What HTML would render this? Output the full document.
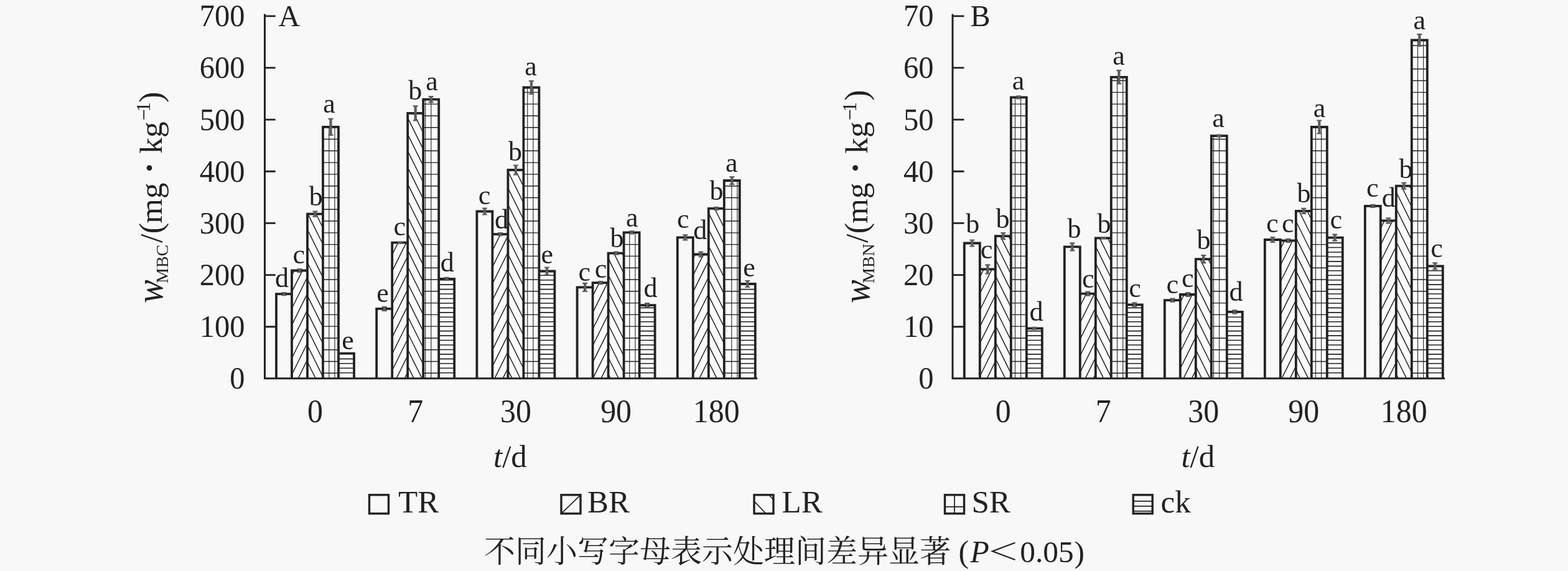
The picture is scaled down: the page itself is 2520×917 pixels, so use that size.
<!DOCTYPE html><html><head><meta charset="utf-8"><title>chart</title><style>html,body{margin:0;padding:0;background:#f8f8f8}body{width:2520px;height:917px;overflow:hidden;font-family:"Liberation Serif",serif}</style></head><body><svg width="2520" height="917" viewBox="0 0 2520 917" style="display:block;filter:blur(0.6px)">
<rect width="2520" height="917" fill="#f8f8f8"/>
<defs>
<clipPath id="c1"><rect x="444" y="472.2" width="25" height="135.6"/></clipPath><clipPath id="c2"><rect x="469" y="434.5" width="25" height="173.3"/></clipPath><clipPath id="c3"><rect x="494" y="343.6" width="25" height="264.2"/></clipPath><clipPath id="c4"><rect x="519" y="203.8" width="25" height="404"/></clipPath><clipPath id="c5"><rect x="544" y="567.7" width="25" height="40.1"/></clipPath><clipPath id="c6"><rect x="605.2" y="495.9" width="25" height="111.9"/></clipPath><clipPath id="c7"><rect x="630.2" y="389.6" width="25" height="218.2"/></clipPath><clipPath id="c8"><rect x="655.2" y="181.8" width="25" height="426"/></clipPath><clipPath id="c9"><rect x="680.2" y="159.6" width="25" height="448.2"/></clipPath><clipPath id="c10"><rect x="705.2" y="447.8" width="25" height="160"/></clipPath><clipPath id="c11"><rect x="766.4" y="339.5" width="25" height="268.3"/></clipPath><clipPath id="c12"><rect x="791.4" y="376.2" width="25" height="231.6"/></clipPath><clipPath id="c13"><rect x="816.4" y="273" width="25" height="334.8"/></clipPath><clipPath id="c14"><rect x="841.4" y="140.5" width="25" height="467.3"/></clipPath><clipPath id="c15"><rect x="866.4" y="435.5" width="25" height="172.3"/></clipPath><clipPath id="c16"><rect x="927.6" y="461.4" width="25" height="146.4"/></clipPath><clipPath id="c17"><rect x="952.6" y="454.2" width="25" height="153.6"/></clipPath><clipPath id="c18"><rect x="977.6" y="406.7" width="25" height="201.1"/></clipPath><clipPath id="c19"><rect x="1002.6" y="373.3" width="25" height="234.5"/></clipPath><clipPath id="c20"><rect x="1027.6" y="490.2" width="25" height="117.6"/></clipPath><clipPath id="c21"><rect x="1088.8" y="381.4" width="25" height="226.4"/></clipPath><clipPath id="c22"><rect x="1113.8" y="408.5" width="25" height="199.3"/></clipPath><clipPath id="c23"><rect x="1138.8" y="334.9" width="25" height="272.9"/></clipPath><clipPath id="c24"><rect x="1163.8" y="290" width="25" height="317.8"/></clipPath><clipPath id="c25"><rect x="1188.8" y="456" width="25" height="151.8"/></clipPath><clipPath id="c26"><rect x="1549.8" y="390.5" width="25" height="217.3"/></clipPath><clipPath id="c27"><rect x="1574.8" y="432.4" width="25" height="175.4"/></clipPath><clipPath id="c28"><rect x="1599.8" y="379.1" width="25" height="228.7"/></clipPath><clipPath id="c29"><rect x="1624.8" y="156.3" width="25" height="451.5"/></clipPath><clipPath id="c30"><rect x="1649.8" y="527.3" width="25" height="80.5"/></clipPath><clipPath id="c31"><rect x="1710.8" y="396.4" width="25" height="211.4"/></clipPath><clipPath id="c32"><rect x="1735.8" y="471.7" width="25" height="136.1"/></clipPath><clipPath id="c33"><rect x="1760.8" y="382.4" width="25" height="225.4"/></clipPath><clipPath id="c34"><rect x="1785.8" y="123.8" width="25" height="484"/></clipPath><clipPath id="c35"><rect x="1810.8" y="489.4" width="25" height="118.4"/></clipPath><clipPath id="c36"><rect x="1871.8" y="482.2" width="25" height="125.6"/></clipPath><clipPath id="c37"><rect x="1896.8" y="473" width="25" height="134.8"/></clipPath><clipPath id="c38"><rect x="1921.8" y="416.1" width="25" height="191.7"/></clipPath><clipPath id="c39"><rect x="1946.8" y="218.2" width="25" height="389.6"/></clipPath><clipPath id="c40"><rect x="1971.8" y="500.8" width="25" height="107"/></clipPath><clipPath id="c41"><rect x="2032.8" y="385" width="25" height="222.8"/></clipPath><clipPath id="c42"><rect x="2057.8" y="386.3" width="25" height="221.5"/></clipPath><clipPath id="c43"><rect x="2082.8" y="338.8" width="25" height="269"/></clipPath><clipPath id="c44"><rect x="2107.8" y="204" width="25" height="403.8"/></clipPath><clipPath id="c45"><rect x="2132.8" y="381.7" width="25" height="226.1"/></clipPath><clipPath id="c46"><rect x="2193.8" y="330.8" width="25" height="277"/></clipPath><clipPath id="c47"><rect x="2218.8" y="354.3" width="25" height="253.5"/></clipPath><clipPath id="c48"><rect x="2243.8" y="298.7" width="25" height="309.1"/></clipPath><clipPath id="c49"><rect x="2268.8" y="64.5" width="25" height="543.3"/></clipPath><clipPath id="c50"><rect x="2293.8" y="427.3" width="25" height="180.5"/></clipPath>
</defs>
<g font-family='"Liberation Serif", serif' fill="#222">
<rect x="444" y="472.2" width="25" height="135.6" fill="#f8f8f8"/>
<rect x="469" y="434.5" width="25" height="173.3" fill="#fbfbfb"/>
<path clip-path="url(#c2)" d="M468 417.68L495 363.16M468 444.25L495 389.73M468 470.82L495 416.3M468 497.39L495 442.87M468 523.96L495 469.44M468 550.53L495 496.01M468 577.1L495 522.58M468 603.67L495 549.15M468 630.24L495 575.72M468 656.81L495 602.29M468 683.38L495 628.86" stroke="#222" stroke-width="1.5" fill="none"/>
<rect x="494" y="343.6" width="25" height="264.2" fill="#fbfbfb"/>
<path clip-path="url(#c3)" d="M493 286.78L520 341.29M493 313.35L520 367.86M493 339.92L520 394.43M493 366.49L520 421M493 393.06L520 447.57M493 419.63L520 474.14M493 446.2L520 500.71M493 472.77L520 527.28M493 499.34L520 553.85M493 525.91L520 580.42M493 552.48L520 606.99M493 579.05L520 633.56M493 605.62L520 660.13M493 632.19L520 686.7" stroke="#222" stroke-width="1.5" fill="none"/>
<rect x="519" y="203.8" width="25" height="404" fill="#fbfbfb"/>
<path clip-path="url(#c4)" d="M528.8 203.8V607.8M537.91 203.8V607.8" stroke="#3c3c3c" stroke-width="1.25" fill="none"/>
<path clip-path="url(#c4)" d="M519 204.73H544M519 223.52H544M519 242.31H544M519 261.1H544M519 279.89H544M519 298.68H544M519 317.47H544M519 336.26H544M519 355.05H544M519 373.84H544M519 392.63H544M519 411.42H544M519 430.21H544M519 449H544M519 467.79H544M519 486.58H544M519 505.37H544M519 524.16H544M519 542.95H544M519 561.74H544M519 580.53H544M519 599.32H544" stroke="#222" stroke-width="1.4" fill="none"/>
<rect x="544" y="567.7" width="25" height="40.1" fill="#fbfbfb"/>
<path clip-path="url(#c5)" d="M544 598.7H569M544 591.25H569M544 583.8H569M544 576.35H569" stroke="#222" stroke-width="1.6" fill="none"/>
<rect x="605.2" y="495.9" width="25" height="111.9" fill="#f8f8f8"/>
<rect x="630.2" y="389.6" width="25" height="218.2" fill="#fbfbfb"/>
<path clip-path="url(#c7)" d="M629.2 384.49L656.2 329.97M629.2 411.06L656.2 356.54M629.2 437.63L656.2 383.11M629.2 464.2L656.2 409.68M629.2 490.77L656.2 436.25M629.2 517.34L656.2 462.82M629.2 543.91L656.2 489.39M629.2 570.48L656.2 515.96M629.2 597.05L656.2 542.53M629.2 623.62L656.2 569.1M629.2 650.19L656.2 595.67M629.2 676.76L656.2 622.24" stroke="#222" stroke-width="1.5" fill="none"/>
<rect x="655.2" y="181.8" width="25" height="426" fill="#fbfbfb"/>
<path clip-path="url(#c8)" d="M654.2 107.41L681.2 161.92M654.2 133.98L681.2 188.49M654.2 160.55L681.2 215.06M654.2 187.12L681.2 241.63M654.2 213.69L681.2 268.2M654.2 240.26L681.2 294.77M654.2 266.83L681.2 321.34M654.2 293.4L681.2 347.91M654.2 319.97L681.2 374.48M654.2 346.54L681.2 401.05M654.2 373.11L681.2 427.62M654.2 399.68L681.2 454.19M654.2 426.25L681.2 480.76M654.2 452.82L681.2 507.33M654.2 479.39L681.2 533.9M654.2 505.96L681.2 560.47M654.2 532.53L681.2 587.04M654.2 559.1L681.2 613.61M654.2 585.67L681.2 640.18M654.2 612.24L681.2 666.75" stroke="#222" stroke-width="1.5" fill="none"/>
<rect x="680.2" y="159.6" width="25" height="448.2" fill="#fbfbfb"/>
<path clip-path="url(#c9)" d="M683.72 159.6V607.8M692.83 159.6V607.8" stroke="#3c3c3c" stroke-width="1.25" fill="none"/>
<path clip-path="url(#c9)" d="M680.2 167.15H705.2M680.2 185.94H705.2M680.2 204.73H705.2M680.2 223.52H705.2M680.2 242.31H705.2M680.2 261.1H705.2M680.2 279.89H705.2M680.2 298.68H705.2M680.2 317.47H705.2M680.2 336.26H705.2M680.2 355.05H705.2M680.2 373.84H705.2M680.2 392.63H705.2M680.2 411.42H705.2M680.2 430.21H705.2M680.2 449H705.2M680.2 467.79H705.2M680.2 486.58H705.2M680.2 505.37H705.2M680.2 524.16H705.2M680.2 542.95H705.2M680.2 561.74H705.2M680.2 580.53H705.2M680.2 599.32H705.2" stroke="#222" stroke-width="1.4" fill="none"/>
<rect x="705.2" y="447.8" width="25" height="160" fill="#fbfbfb"/>
<path clip-path="url(#c10)" d="M705.2 598.7H730.2M705.2 591.25H730.2M705.2 583.8H730.2M705.2 576.35H730.2M705.2 568.9H730.2M705.2 561.45H730.2M705.2 554H730.2M705.2 546.55H730.2M705.2 539.1H730.2M705.2 531.65H730.2M705.2 524.2H730.2M705.2 516.75H730.2M705.2 509.3H730.2M705.2 501.85H730.2M705.2 494.4H730.2M705.2 486.95H730.2M705.2 479.5H730.2M705.2 472.05H730.2M705.2 464.6H730.2M705.2 457.15H730.2M705.2 449.7H730.2" stroke="#222" stroke-width="1.6" fill="none"/>
<rect x="766.4" y="339.5" width="25" height="268.3" fill="#f8f8f8"/>
<rect x="791.4" y="376.2" width="25" height="231.6" fill="#fbfbfb"/>
<path clip-path="url(#c12)" d="M790.4 377.86L817.4 323.35M790.4 404.43L817.4 349.92M790.4 431L817.4 376.49M790.4 457.57L817.4 403.06M790.4 484.14L817.4 429.63M790.4 510.71L817.4 456.2M790.4 537.28L817.4 482.77M790.4 563.85L817.4 509.34M790.4 590.42L817.4 535.91M790.4 616.99L817.4 562.48M790.4 643.56L817.4 589.05M790.4 670.13L817.4 615.62" stroke="#222" stroke-width="1.5" fill="none"/>
<rect x="816.4" y="273" width="25" height="334.8" fill="#fbfbfb"/>
<path clip-path="url(#c13)" d="M815.4 220.31L842.4 274.83M815.4 246.88L842.4 301.4M815.4 273.45L842.4 327.97M815.4 300.02L842.4 354.54M815.4 326.59L842.4 381.11M815.4 353.16L842.4 407.68M815.4 379.73L842.4 434.25M815.4 406.3L842.4 460.82M815.4 432.87L842.4 487.39M815.4 459.44L842.4 513.96M815.4 486.01L842.4 540.53M815.4 512.58L842.4 567.1M815.4 539.15L842.4 593.67M815.4 565.72L842.4 620.24M815.4 592.29L842.4 646.81M815.4 618.86L842.4 673.38" stroke="#222" stroke-width="1.5" fill="none"/>
<rect x="841.4" y="140.5" width="25" height="467.3" fill="#fbfbfb"/>
<path clip-path="url(#c14)" d="M847.75 140.5V607.8M856.87 140.5V607.8" stroke="#3c3c3c" stroke-width="1.25" fill="none"/>
<path clip-path="url(#c14)" d="M841.4 148.36H866.4M841.4 167.15H866.4M841.4 185.94H866.4M841.4 204.73H866.4M841.4 223.52H866.4M841.4 242.31H866.4M841.4 261.1H866.4M841.4 279.89H866.4M841.4 298.68H866.4M841.4 317.47H866.4M841.4 336.26H866.4M841.4 355.05H866.4M841.4 373.84H866.4M841.4 392.63H866.4M841.4 411.42H866.4M841.4 430.21H866.4M841.4 449H866.4M841.4 467.79H866.4M841.4 486.58H866.4M841.4 505.37H866.4M841.4 524.16H866.4M841.4 542.95H866.4M841.4 561.74H866.4M841.4 580.53H866.4M841.4 599.32H866.4" stroke="#222" stroke-width="1.4" fill="none"/>
<rect x="866.4" y="435.5" width="25" height="172.3" fill="#fbfbfb"/>
<path clip-path="url(#c15)" d="M866.4 598.7H891.4M866.4 591.25H891.4M866.4 583.8H891.4M866.4 576.35H891.4M866.4 568.9H891.4M866.4 561.45H891.4M866.4 554H891.4M866.4 546.55H891.4M866.4 539.1H891.4M866.4 531.65H891.4M866.4 524.2H891.4M866.4 516.75H891.4M866.4 509.3H891.4M866.4 501.85H891.4M866.4 494.4H891.4M866.4 486.95H891.4M866.4 479.5H891.4M866.4 472.05H891.4M866.4 464.6H891.4M866.4 457.15H891.4M866.4 449.7H891.4M866.4 442.25H891.4" stroke="#222" stroke-width="1.6" fill="none"/>
<rect x="927.6" y="461.4" width="25" height="146.4" fill="#f8f8f8"/>
<rect x="952.6" y="454.2" width="25" height="153.6" fill="#fbfbfb"/>
<path clip-path="url(#c17)" d="M951.6 450.95L978.6 396.44M951.6 477.52L978.6 423.01M951.6 504.09L978.6 449.58M951.6 530.66L978.6 476.15M951.6 557.23L978.6 502.72M951.6 583.8L978.6 529.29M951.6 610.37L978.6 555.86M951.6 636.94L978.6 582.43M951.6 663.51L978.6 609" stroke="#222" stroke-width="1.5" fill="none"/>
<rect x="977.6" y="406.7" width="25" height="201.1" fill="#fbfbfb"/>
<path clip-path="url(#c18)" d="M976.6 333.22L1003.6 387.73M976.6 359.79L1003.6 414.3M976.6 386.36L1003.6 440.87M976.6 412.93L1003.6 467.44M976.6 439.5L1003.6 494.01M976.6 466.07L1003.6 520.58M976.6 492.64L1003.6 547.15M976.6 519.21L1003.6 573.72M976.6 545.78L1003.6 600.29M976.6 572.35L1003.6 626.86M976.6 598.92L1003.6 653.43M976.6 625.49L1003.6 680" stroke="#222" stroke-width="1.5" fill="none"/>
<rect x="1002.6" y="373.3" width="25" height="234.5" fill="#fbfbfb"/>
<path clip-path="url(#c19)" d="M1011.79 373.3V607.8M1020.9 373.3V607.8" stroke="#3c3c3c" stroke-width="1.25" fill="none"/>
<path clip-path="url(#c19)" d="M1002.6 373.84H1027.6M1002.6 392.63H1027.6M1002.6 411.42H1027.6M1002.6 430.21H1027.6M1002.6 449H1027.6M1002.6 467.79H1027.6M1002.6 486.58H1027.6M1002.6 505.37H1027.6M1002.6 524.16H1027.6M1002.6 542.95H1027.6M1002.6 561.74H1027.6M1002.6 580.53H1027.6M1002.6 599.32H1027.6" stroke="#222" stroke-width="1.4" fill="none"/>
<rect x="1027.6" y="490.2" width="25" height="117.6" fill="#fbfbfb"/>
<path clip-path="url(#c20)" d="M1027.6 598.7H1052.6M1027.6 591.25H1052.6M1027.6 583.8H1052.6M1027.6 576.35H1052.6M1027.6 568.9H1052.6M1027.6 561.45H1052.6M1027.6 554H1052.6M1027.6 546.55H1052.6M1027.6 539.1H1052.6M1027.6 531.65H1052.6M1027.6 524.2H1052.6M1027.6 516.75H1052.6M1027.6 509.3H1052.6M1027.6 501.85H1052.6M1027.6 494.4H1052.6" stroke="#222" stroke-width="1.6" fill="none"/>
<rect x="1088.8" y="381.4" width="25" height="226.4" fill="#f8f8f8"/>
<rect x="1113.8" y="408.5" width="25" height="199.3" fill="#fbfbfb"/>
<path clip-path="url(#c22)" d="M1112.8 391.19L1139.8 336.67M1112.8 417.76L1139.8 363.24M1112.8 444.33L1139.8 389.81M1112.8 470.9L1139.8 416.38M1112.8 497.47L1139.8 442.95M1112.8 524.04L1139.8 469.52M1112.8 550.61L1139.8 496.09M1112.8 577.18L1139.8 522.66M1112.8 603.75L1139.8 549.23M1112.8 630.32L1139.8 575.8M1112.8 656.89L1139.8 602.37M1112.8 683.46L1139.8 628.94" stroke="#222" stroke-width="1.5" fill="none"/>
<rect x="1138.8" y="334.9" width="25" height="272.9" fill="#fbfbfb"/>
<path clip-path="url(#c23)" d="M1137.8 260.13L1164.8 314.64M1137.8 286.7L1164.8 341.21M1137.8 313.27L1164.8 367.78M1137.8 339.84L1164.8 394.35M1137.8 366.41L1164.8 420.92M1137.8 392.98L1164.8 447.49M1137.8 419.55L1164.8 474.06M1137.8 446.12L1164.8 500.63M1137.8 472.69L1164.8 527.2M1137.8 499.26L1164.8 553.77M1137.8 525.83L1164.8 580.34M1137.8 552.4L1164.8 606.91M1137.8 578.97L1164.8 633.48M1137.8 605.54L1164.8 660.05M1137.8 632.11L1164.8 686.62" stroke="#222" stroke-width="1.5" fill="none"/>
<rect x="1163.8" y="290" width="25" height="317.8" fill="#fbfbfb"/>
<path clip-path="url(#c24)" d="M1175.82 290V607.8M1184.94 290V607.8" stroke="#3c3c3c" stroke-width="1.25" fill="none"/>
<path clip-path="url(#c24)" d="M1163.8 298.68H1188.8M1163.8 317.47H1188.8M1163.8 336.26H1188.8M1163.8 355.05H1188.8M1163.8 373.84H1188.8M1163.8 392.63H1188.8M1163.8 411.42H1188.8M1163.8 430.21H1188.8M1163.8 449H1188.8M1163.8 467.79H1188.8M1163.8 486.58H1188.8M1163.8 505.37H1188.8M1163.8 524.16H1188.8M1163.8 542.95H1188.8M1163.8 561.74H1188.8M1163.8 580.53H1188.8M1163.8 599.32H1188.8" stroke="#222" stroke-width="1.4" fill="none"/>
<rect x="1188.8" y="456" width="25" height="151.8" fill="#fbfbfb"/>
<path clip-path="url(#c25)" d="M1188.8 598.7H1213.8M1188.8 591.25H1213.8M1188.8 583.8H1213.8M1188.8 576.35H1213.8M1188.8 568.9H1213.8M1188.8 561.45H1213.8M1188.8 554H1213.8M1188.8 546.55H1213.8M1188.8 539.1H1213.8M1188.8 531.65H1213.8M1188.8 524.2H1213.8M1188.8 516.75H1213.8M1188.8 509.3H1213.8M1188.8 501.85H1213.8M1188.8 494.4H1213.8M1188.8 486.95H1213.8M1188.8 479.5H1213.8M1188.8 472.05H1213.8M1188.8 464.6H1213.8" stroke="#222" stroke-width="1.6" fill="none"/>
<path d="M444 607.8V472.2H469V607.8M469 607.8V434.5H494V607.8M494 607.8V343.6H519V607.8M519 607.8V203.8H544V607.8M544 607.8V567.7H569V607.8" stroke="#222" stroke-width="3.8" fill="none" stroke-linejoin="miter"/>
<path d="M605.2 607.8V495.9H630.2V607.8M630.2 607.8V389.6H655.2V607.8M655.2 607.8V181.8H680.2V607.8M680.2 607.8V159.6H705.2V607.8M705.2 607.8V447.8H730.2V607.8" stroke="#222" stroke-width="3.8" fill="none" stroke-linejoin="miter"/>
<path d="M766.4 607.8V339.5H791.4V607.8M791.4 607.8V376.2H816.4V607.8M816.4 607.8V273H841.4V607.8M841.4 607.8V140.5H866.4V607.8M866.4 607.8V435.5H891.4V607.8" stroke="#222" stroke-width="3.8" fill="none" stroke-linejoin="miter"/>
<path d="M927.6 607.8V461.4H952.6V607.8M952.6 607.8V454.2H977.6V607.8M977.6 607.8V406.7H1002.6V607.8M1002.6 607.8V373.3H1027.6V607.8M1027.6 607.8V490.2H1052.6V607.8" stroke="#222" stroke-width="3.8" fill="none" stroke-linejoin="miter"/>
<path d="M1088.8 607.8V381.4H1113.8V607.8M1113.8 607.8V408.5H1138.8V607.8M1138.8 607.8V334.9H1163.8V607.8M1163.8 607.8V290H1188.8V607.8M1188.8 607.8V456H1213.8V607.8" stroke="#222" stroke-width="3.8" fill="none" stroke-linejoin="miter"/>
<path d="M425.5 24.1V607.8H1215.7" stroke="#222" stroke-width="3" fill="none" stroke-linejoin="miter" stroke-linecap="square"/>
<path d="M425.5 524.74h17.2M425.5 441.59h17.2M425.5 358.43h17.2M425.5 275.27h17.2M425.5 192.11h17.2M425.5 108.96h17.2M425.5 25.8h17.2" stroke="#222" stroke-width="2.8" fill="none"/>
<text transform="translate(393.5 624.4) scale(0.97 1)" font-size="50" text-anchor="end">0</text>
<text transform="translate(393.5 541.24) scale(0.97 1)" font-size="50" text-anchor="end">100</text>
<text transform="translate(393.5 458.09) scale(0.97 1)" font-size="50" text-anchor="end">200</text>
<text transform="translate(393.5 374.93) scale(0.97 1)" font-size="50" text-anchor="end">300</text>
<text transform="translate(393.5 291.77) scale(0.97 1)" font-size="50" text-anchor="end">400</text>
<text transform="translate(393.5 208.61) scale(0.97 1)" font-size="50" text-anchor="end">500</text>
<text transform="translate(393.5 125.46) scale(0.97 1)" font-size="50" text-anchor="end">600</text>
<text transform="translate(393.5 42.3) scale(0.97 1)" font-size="50" text-anchor="end">700</text>
<text transform="translate(506.5 677.6) scale(0.96 1)" font-size="52" text-anchor="middle">0</text>
<text transform="translate(667.7 677.6) scale(0.96 1)" font-size="52" text-anchor="middle">7</text>
<text transform="translate(828.9 677.6) scale(0.96 1)" font-size="52" text-anchor="middle">30</text>
<text transform="translate(990.1 677.6) scale(0.96 1)" font-size="52" text-anchor="middle">90</text>
<text transform="translate(1151.3 677.6) scale(0.96 1)" font-size="52" text-anchor="middle">180</text>
<text x="819.9" y="749.5" font-size="51" text-anchor="middle"><tspan font-style="italic">t</tspan>/d</text>
<text x="447.5" y="42" font-size="48">A</text>
<g transform="translate(259.8 486) rotate(-90)"><text transform="translate(-0.64 0.8) scale(1 1.1)" font-size="56" font-style="italic">w</text><text x="30.99" y="10.5" font-size="28">MBC</text><text x="96" y="0" font-size="51">/</text><text x="110.72" y="0" font-size="52">(</text><text x="127.23" y="0" font-size="51">mg</text><text x="239.32" y="0" font-size="51.5">kg</text><text x="306.19" y="-18.5" font-size="32">1</text><text x="321.33" y="0" font-size="52">)</text><path d="M294.3 -28.6H309.3" stroke="#222" stroke-width="1.8" fill="none"/><circle cx="216.3" cy="-19.8" r="4.4"/></g>
<path d="M456.5 470.2V474.2" stroke="#5c5c5c" stroke-width="4.2" fill="none"/>
<path d="M452.5 470.2h8M452.5 474.2h8" stroke="#5c5c5c" stroke-width="2.2" fill="none"/>
<text x="441.91" y="461.3" font-size="44">d</text>
<path d="M481.5 432V437" stroke="#5c5c5c" stroke-width="4.2" fill="none"/>
<path d="M477.5 432h8M477.5 437h8" stroke="#5c5c5c" stroke-width="2.2" fill="none"/>
<text x="470.62" y="423" font-size="44">c</text>
<path d="M506.5 339.6V347.6" stroke="#5c5c5c" stroke-width="4.2" fill="none"/>
<path d="M502.5 339.6h8M502.5 347.6h8" stroke="#5c5c5c" stroke-width="2.2" fill="none"/>
<text x="496.8" y="329.5" font-size="44">b</text>
<path d="M531.5 190.8V216.8" stroke="#5c5c5c" stroke-width="4.2" fill="none"/>
<path d="M527.5 190.8h8M527.5 216.8h8" stroke="#5c5c5c" stroke-width="2.2" fill="none"/>
<text x="519.25" y="180.9" font-size="44">a</text>
<text x="549.18" y="560.5" font-size="44">e</text>
<path d="M617.7 492.9V498.9" stroke="#5c5c5c" stroke-width="4.2" fill="none"/>
<path d="M613.7 492.9h8M613.7 498.9h8" stroke="#5c5c5c" stroke-width="2.2" fill="none"/>
<text x="605.28" y="485" font-size="44">e</text>
<path d="M642.7 388.6V390.6" stroke="#5c5c5c" stroke-width="4.2" fill="none"/>
<path d="M638.7 388.6h8M638.7 390.6h8" stroke="#5c5c5c" stroke-width="2.2" fill="none"/>
<text x="632.52" y="378.4" font-size="44">c</text>
<path d="M667.7 170.3V193.3" stroke="#5c5c5c" stroke-width="4.2" fill="none"/>
<path d="M663.7 170.3h8M663.7 193.3h8" stroke="#5c5c5c" stroke-width="2.2" fill="none"/>
<text x="656.3" y="160" font-size="44">b</text>
<path d="M692.7 155.1V164.1" stroke="#5c5c5c" stroke-width="4.2" fill="none"/>
<path d="M688.7 155.1h8M688.7 164.1h8" stroke="#5c5c5c" stroke-width="2.2" fill="none"/>
<text x="684.25" y="144.8" font-size="44">a</text>
<path d="M717.7 445.8V449.8" stroke="#5c5c5c" stroke-width="4.2" fill="none"/>
<path d="M713.7 445.8h8M713.7 449.8h8" stroke="#5c5c5c" stroke-width="2.2" fill="none"/>
<text x="707.81" y="435.9" font-size="44">d</text>
<path d="M778.9 334.5V344.5" stroke="#5c5c5c" stroke-width="4.2" fill="none"/>
<path d="M774.9 334.5h8M774.9 344.5h8" stroke="#5c5c5c" stroke-width="2.2" fill="none"/>
<text x="768.72" y="328.3" font-size="44">c</text>
<path d="M803.9 374.2V378.2" stroke="#5c5c5c" stroke-width="4.2" fill="none"/>
<path d="M799.9 374.2h8M799.9 378.2h8" stroke="#5c5c5c" stroke-width="2.2" fill="none"/>
<text x="794.91" y="367" font-size="44">d</text>
<path d="M828.9 265.5V280.5" stroke="#5c5c5c" stroke-width="4.2" fill="none"/>
<path d="M824.9 265.5h8M824.9 280.5h8" stroke="#5c5c5c" stroke-width="2.2" fill="none"/>
<text x="817.1" y="257.9" font-size="44">b</text>
<path d="M853.9 130V151" stroke="#5c5c5c" stroke-width="4.2" fill="none"/>
<path d="M849.9 130h8M849.9 151h8" stroke="#5c5c5c" stroke-width="2.2" fill="none"/>
<text x="843.35" y="120.5" font-size="44">a</text>
<path d="M878.9 429.5V441.5" stroke="#5c5c5c" stroke-width="4.2" fill="none"/>
<path d="M874.9 429.5h8M874.9 441.5h8" stroke="#5c5c5c" stroke-width="2.2" fill="none"/>
<text x="869.38" y="422.7" font-size="44">e</text>
<path d="M940.1 454.9V467.9" stroke="#5c5c5c" stroke-width="4.2" fill="none"/>
<path d="M936.1 454.9h8M936.1 467.9h8" stroke="#5c5c5c" stroke-width="2.2" fill="none"/>
<text x="929.62" y="450.5" font-size="44">c</text>
<path d="M965.1 452.2V456.2" stroke="#5c5c5c" stroke-width="4.2" fill="none"/>
<path d="M961.1 452.2h8M961.1 456.2h8" stroke="#5c5c5c" stroke-width="2.2" fill="none"/>
<text x="955.72" y="445.6" font-size="44">c</text>
<path d="M990.1 404.7V408.7" stroke="#5c5c5c" stroke-width="4.2" fill="none"/>
<path d="M986.1 404.7h8M986.1 408.7h8" stroke="#5c5c5c" stroke-width="2.2" fill="none"/>
<text x="980.4" y="396.5" font-size="44">b</text>
<path d="M1015.1 371.3V375.3" stroke="#5c5c5c" stroke-width="4.2" fill="none"/>
<path d="M1011.1 371.3h8M1011.1 375.3h8" stroke="#5c5c5c" stroke-width="2.2" fill="none"/>
<text x="1005.95" y="363.8" font-size="44">a</text>
<path d="M1040.1 487.2V493.2" stroke="#5c5c5c" stroke-width="4.2" fill="none"/>
<path d="M1036.1 487.2h8M1036.1 493.2h8" stroke="#5c5c5c" stroke-width="2.2" fill="none"/>
<text x="1034.41" y="476.7" font-size="44">d</text>
<path d="M1101.3 377.4V385.4" stroke="#5c5c5c" stroke-width="4.2" fill="none"/>
<path d="M1097.3 377.4h8M1097.3 385.4h8" stroke="#5c5c5c" stroke-width="2.2" fill="none"/>
<text x="1087.92" y="365.6" font-size="44">c</text>
<path d="M1126.3 404.5V412.5" stroke="#5c5c5c" stroke-width="4.2" fill="none"/>
<path d="M1122.3 404.5h8M1122.3 412.5h8" stroke="#5c5c5c" stroke-width="2.2" fill="none"/>
<text x="1114.21" y="383.6" font-size="44">d</text>
<path d="M1151.3 332.9V336.9" stroke="#5c5c5c" stroke-width="4.2" fill="none"/>
<path d="M1147.3 332.9h8M1147.3 336.9h8" stroke="#5c5c5c" stroke-width="2.2" fill="none"/>
<text x="1140.4" y="321.4" font-size="44">b</text>
<path d="M1176.3 284V296" stroke="#5c5c5c" stroke-width="4.2" fill="none"/>
<path d="M1172.3 284h8M1172.3 296h8" stroke="#5c5c5c" stroke-width="2.2" fill="none"/>
<text x="1165.95" y="276.2" font-size="44">a</text>
<path d="M1201.3 451V461" stroke="#5c5c5c" stroke-width="4.2" fill="none"/>
<path d="M1197.3 451h8M1197.3 461h8" stroke="#5c5c5c" stroke-width="2.2" fill="none"/>
<text x="1194.28" y="444.1" font-size="44">e</text>
<rect x="1549.8" y="390.5" width="25" height="217.3" fill="#f8f8f8"/>
<rect x="1574.8" y="432.4" width="25" height="175.4" fill="#fbfbfb"/>
<path clip-path="url(#c27)" d="M1573.8 420.29L1600.8 365.77M1573.8 446.86L1600.8 392.34M1573.8 473.43L1600.8 418.91M1573.8 500L1600.8 445.48M1573.8 526.57L1600.8 472.05M1573.8 553.14L1600.8 498.62M1573.8 579.71L1600.8 525.19M1573.8 606.28L1600.8 551.76M1573.8 632.85L1600.8 578.33M1573.8 659.42L1600.8 604.9M1573.8 685.99L1600.8 631.47" stroke="#222" stroke-width="1.5" fill="none"/>
<rect x="1599.8" y="379.1" width="25" height="228.7" fill="#fbfbfb"/>
<path clip-path="url(#c28)" d="M1598.8 308.02L1625.8 362.53M1598.8 334.59L1625.8 389.1M1598.8 361.16L1625.8 415.67M1598.8 387.73L1625.8 442.24M1598.8 414.3L1625.8 468.81M1598.8 440.87L1625.8 495.38M1598.8 467.44L1625.8 521.95M1598.8 494.01L1625.8 548.52M1598.8 520.58L1625.8 575.09M1598.8 547.15L1625.8 601.66M1598.8 573.72L1625.8 628.23M1598.8 600.29L1625.8 654.8M1598.8 626.86L1625.8 681.37" stroke="#222" stroke-width="1.5" fill="none"/>
<rect x="1624.8" y="156.3" width="25" height="451.5" fill="#fbfbfb"/>
<path clip-path="url(#c29)" d="M1631.48 156.3V607.8M1640.59 156.3V607.8" stroke="#3c3c3c" stroke-width="1.25" fill="none"/>
<path clip-path="url(#c29)" d="M1624.8 167.15H1649.8M1624.8 185.94H1649.8M1624.8 204.73H1649.8M1624.8 223.52H1649.8M1624.8 242.31H1649.8M1624.8 261.1H1649.8M1624.8 279.89H1649.8M1624.8 298.68H1649.8M1624.8 317.47H1649.8M1624.8 336.26H1649.8M1624.8 355.05H1649.8M1624.8 373.84H1649.8M1624.8 392.63H1649.8M1624.8 411.42H1649.8M1624.8 430.21H1649.8M1624.8 449H1649.8M1624.8 467.79H1649.8M1624.8 486.58H1649.8M1624.8 505.37H1649.8M1624.8 524.16H1649.8M1624.8 542.95H1649.8M1624.8 561.74H1649.8M1624.8 580.53H1649.8M1624.8 599.32H1649.8" stroke="#222" stroke-width="1.4" fill="none"/>
<rect x="1649.8" y="527.3" width="25" height="80.5" fill="#fbfbfb"/>
<path clip-path="url(#c30)" d="M1649.8 598.7H1674.8M1649.8 591.25H1674.8M1649.8 583.8H1674.8M1649.8 576.35H1674.8M1649.8 568.9H1674.8M1649.8 561.45H1674.8M1649.8 554H1674.8M1649.8 546.55H1674.8M1649.8 539.1H1674.8M1649.8 531.65H1674.8" stroke="#222" stroke-width="1.6" fill="none"/>
<rect x="1710.8" y="396.4" width="25" height="211.4" fill="#f8f8f8"/>
<rect x="1735.8" y="471.7" width="25" height="136.1" fill="#fbfbfb"/>
<path clip-path="url(#c32)" d="M1734.8 467.21L1761.8 412.7M1734.8 493.78L1761.8 439.27M1734.8 520.35L1761.8 465.84M1734.8 546.92L1761.8 492.41M1734.8 573.49L1761.8 518.98M1734.8 600.06L1761.8 545.55M1734.8 626.63L1761.8 572.12M1734.8 653.2L1761.8 598.69M1734.8 679.77L1761.8 625.26" stroke="#222" stroke-width="1.5" fill="none"/>
<rect x="1760.8" y="382.4" width="25" height="225.4" fill="#fbfbfb"/>
<path clip-path="url(#c33)" d="M1759.8 314.24L1786.8 368.75M1759.8 340.81L1786.8 395.32M1759.8 367.38L1786.8 421.89M1759.8 393.95L1786.8 448.46M1759.8 420.52L1786.8 475.03M1759.8 447.09L1786.8 501.6M1759.8 473.66L1786.8 528.17M1759.8 500.23L1786.8 554.74M1759.8 526.8L1786.8 581.31M1759.8 553.37L1786.8 607.88M1759.8 579.94L1786.8 634.45M1759.8 606.51L1786.8 661.02" stroke="#222" stroke-width="1.5" fill="none"/>
<rect x="1785.8" y="123.8" width="25" height="484" fill="#fbfbfb"/>
<path clip-path="url(#c34)" d="M1795.51 123.8V607.8M1804.62 123.8V607.8" stroke="#3c3c3c" stroke-width="1.25" fill="none"/>
<path clip-path="url(#c34)" d="M1785.8 129.57H1810.8M1785.8 148.36H1810.8M1785.8 167.15H1810.8M1785.8 185.94H1810.8M1785.8 204.73H1810.8M1785.8 223.52H1810.8M1785.8 242.31H1810.8M1785.8 261.1H1810.8M1785.8 279.89H1810.8M1785.8 298.68H1810.8M1785.8 317.47H1810.8M1785.8 336.26H1810.8M1785.8 355.05H1810.8M1785.8 373.84H1810.8M1785.8 392.63H1810.8M1785.8 411.42H1810.8M1785.8 430.21H1810.8M1785.8 449H1810.8M1785.8 467.79H1810.8M1785.8 486.58H1810.8M1785.8 505.37H1810.8M1785.8 524.16H1810.8M1785.8 542.95H1810.8M1785.8 561.74H1810.8M1785.8 580.53H1810.8M1785.8 599.32H1810.8" stroke="#222" stroke-width="1.4" fill="none"/>
<rect x="1810.8" y="489.4" width="25" height="118.4" fill="#fbfbfb"/>
<path clip-path="url(#c35)" d="M1810.8 598.7H1835.8M1810.8 591.25H1835.8M1810.8 583.8H1835.8M1810.8 576.35H1835.8M1810.8 568.9H1835.8M1810.8 561.45H1835.8M1810.8 554H1835.8M1810.8 546.55H1835.8M1810.8 539.1H1835.8M1810.8 531.65H1835.8M1810.8 524.2H1835.8M1810.8 516.75H1835.8M1810.8 509.3H1835.8M1810.8 501.85H1835.8M1810.8 494.4H1835.8" stroke="#222" stroke-width="1.6" fill="none"/>
<rect x="1871.8" y="482.2" width="25" height="125.6" fill="#f8f8f8"/>
<rect x="1896.8" y="473" width="25" height="134.8" fill="#fbfbfb"/>
<path clip-path="url(#c37)" d="M1895.8 460.99L1922.8 406.48M1895.8 487.56L1922.8 433.05M1895.8 514.13L1922.8 459.62M1895.8 540.7L1922.8 486.19M1895.8 567.27L1922.8 512.76M1895.8 593.84L1922.8 539.33M1895.8 620.41L1922.8 565.9M1895.8 646.98L1922.8 592.47M1895.8 673.55L1922.8 619.04" stroke="#222" stroke-width="1.5" fill="none"/>
<rect x="1921.8" y="416.1" width="25" height="191.7" fill="#fbfbfb"/>
<path clip-path="url(#c38)" d="M1920.8 347.03L1947.8 401.54M1920.8 373.6L1947.8 428.11M1920.8 400.17L1947.8 454.68M1920.8 426.74L1947.8 481.25M1920.8 453.31L1947.8 507.82M1920.8 479.88L1947.8 534.39M1920.8 506.45L1947.8 560.96M1920.8 533.02L1947.8 587.53M1920.8 559.59L1947.8 614.1M1920.8 586.16L1947.8 640.67M1920.8 612.73L1947.8 667.24" stroke="#222" stroke-width="1.5" fill="none"/>
<rect x="1946.8" y="218.2" width="25" height="389.6" fill="#fbfbfb"/>
<path clip-path="url(#c39)" d="M1950.43 218.2V607.8M1959.55 218.2V607.8" stroke="#3c3c3c" stroke-width="1.25" fill="none"/>
<path clip-path="url(#c39)" d="M1946.8 223.52H1971.8M1946.8 242.31H1971.8M1946.8 261.1H1971.8M1946.8 279.89H1971.8M1946.8 298.68H1971.8M1946.8 317.47H1971.8M1946.8 336.26H1971.8M1946.8 355.05H1971.8M1946.8 373.84H1971.8M1946.8 392.63H1971.8M1946.8 411.42H1971.8M1946.8 430.21H1971.8M1946.8 449H1971.8M1946.8 467.79H1971.8M1946.8 486.58H1971.8M1946.8 505.37H1971.8M1946.8 524.16H1971.8M1946.8 542.95H1971.8M1946.8 561.74H1971.8M1946.8 580.53H1971.8M1946.8 599.32H1971.8" stroke="#222" stroke-width="1.4" fill="none"/>
<rect x="1971.8" y="500.8" width="25" height="107" fill="#fbfbfb"/>
<path clip-path="url(#c40)" d="M1971.8 598.7H1996.8M1971.8 591.25H1996.8M1971.8 583.8H1996.8M1971.8 576.35H1996.8M1971.8 568.9H1996.8M1971.8 561.45H1996.8M1971.8 554H1996.8M1971.8 546.55H1996.8M1971.8 539.1H1996.8M1971.8 531.65H1996.8M1971.8 524.2H1996.8M1971.8 516.75H1996.8M1971.8 509.3H1996.8" stroke="#222" stroke-width="1.6" fill="none"/>
<rect x="2032.8" y="385" width="25" height="222.8" fill="#f8f8f8"/>
<rect x="2057.8" y="386.3" width="25" height="221.5" fill="#fbfbfb"/>
<path clip-path="url(#c42)" d="M2056.8 375.06L2083.8 320.55M2056.8 401.63L2083.8 347.12M2056.8 428.2L2083.8 373.69M2056.8 454.77L2083.8 400.26M2056.8 481.34L2083.8 426.83M2056.8 507.91L2083.8 453.4M2056.8 534.48L2083.8 479.97M2056.8 561.05L2083.8 506.54M2056.8 587.62L2083.8 533.11M2056.8 614.19L2083.8 559.68M2056.8 640.76L2083.8 586.25M2056.8 667.33L2083.8 612.82" stroke="#222" stroke-width="1.5" fill="none"/>
<rect x="2082.8" y="338.8" width="25" height="269" fill="#fbfbfb"/>
<path clip-path="url(#c43)" d="M2081.8 273.53L2108.8 328.05M2081.8 300.1L2108.8 354.62M2081.8 326.67L2108.8 381.19M2081.8 353.24L2108.8 407.76M2081.8 379.81L2108.8 434.33M2081.8 406.38L2108.8 460.9M2081.8 432.95L2108.8 487.47M2081.8 459.52L2108.8 514.04M2081.8 486.09L2108.8 540.61M2081.8 512.66L2108.8 567.18M2081.8 539.23L2108.8 593.75M2081.8 565.8L2108.8 620.32M2081.8 592.37L2108.8 646.89M2081.8 618.94L2108.8 673.46" stroke="#222" stroke-width="1.5" fill="none"/>
<rect x="2107.8" y="204" width="25" height="403.8" fill="#fbfbfb"/>
<path clip-path="url(#c44)" d="M2114.47 204V607.8M2123.58 204V607.8" stroke="#3c3c3c" stroke-width="1.25" fill="none"/>
<path clip-path="url(#c44)" d="M2107.8 204.73H2132.8M2107.8 223.52H2132.8M2107.8 242.31H2132.8M2107.8 261.1H2132.8M2107.8 279.89H2132.8M2107.8 298.68H2132.8M2107.8 317.47H2132.8M2107.8 336.26H2132.8M2107.8 355.05H2132.8M2107.8 373.84H2132.8M2107.8 392.63H2132.8M2107.8 411.42H2132.8M2107.8 430.21H2132.8M2107.8 449H2132.8M2107.8 467.79H2132.8M2107.8 486.58H2132.8M2107.8 505.37H2132.8M2107.8 524.16H2132.8M2107.8 542.95H2132.8M2107.8 561.74H2132.8M2107.8 580.53H2132.8M2107.8 599.32H2132.8" stroke="#222" stroke-width="1.4" fill="none"/>
<rect x="2132.8" y="381.7" width="25" height="226.1" fill="#fbfbfb"/>
<path clip-path="url(#c45)" d="M2132.8 598.7H2157.8M2132.8 591.25H2157.8M2132.8 583.8H2157.8M2132.8 576.35H2157.8M2132.8 568.9H2157.8M2132.8 561.45H2157.8M2132.8 554H2157.8M2132.8 546.55H2157.8M2132.8 539.1H2157.8M2132.8 531.65H2157.8M2132.8 524.2H2157.8M2132.8 516.75H2157.8M2132.8 509.3H2157.8M2132.8 501.85H2157.8M2132.8 494.4H2157.8M2132.8 486.95H2157.8M2132.8 479.5H2157.8M2132.8 472.05H2157.8M2132.8 464.6H2157.8M2132.8 457.15H2157.8M2132.8 449.7H2157.8M2132.8 442.25H2157.8M2132.8 434.8H2157.8M2132.8 427.35H2157.8M2132.8 419.9H2157.8M2132.8 412.45H2157.8M2132.8 405H2157.8M2132.8 397.55H2157.8M2132.8 390.1H2157.8" stroke="#222" stroke-width="1.6" fill="none"/>
<rect x="2193.8" y="330.8" width="25" height="277" fill="#f8f8f8"/>
<rect x="2218.8" y="354.3" width="25" height="253.5" fill="#fbfbfb"/>
<path clip-path="url(#c47)" d="M2217.8 342.27L2244.8 287.76M2217.8 368.84L2244.8 314.33M2217.8 395.41L2244.8 340.9M2217.8 421.98L2244.8 367.47M2217.8 448.55L2244.8 394.04M2217.8 475.12L2244.8 420.61M2217.8 501.69L2244.8 447.18M2217.8 528.26L2244.8 473.75M2217.8 554.83L2244.8 500.32M2217.8 581.4L2244.8 526.89M2217.8 607.97L2244.8 553.46M2217.8 634.54L2244.8 580.03M2217.8 661.11L2244.8 606.6" stroke="#222" stroke-width="1.5" fill="none"/>
<rect x="2243.8" y="298.7" width="25" height="309.1" fill="#fbfbfb"/>
<path clip-path="url(#c48)" d="M2242.8 226.61L2269.8 281.13M2242.8 253.18L2269.8 307.7M2242.8 279.75L2269.8 334.27M2242.8 306.32L2269.8 360.84M2242.8 332.89L2269.8 387.41M2242.8 359.46L2269.8 413.98M2242.8 386.03L2269.8 440.55M2242.8 412.6L2269.8 467.12M2242.8 439.17L2269.8 493.69M2242.8 465.74L2269.8 520.26M2242.8 492.31L2269.8 546.83M2242.8 518.88L2269.8 573.4M2242.8 545.45L2269.8 599.97M2242.8 572.02L2269.8 626.54M2242.8 598.59L2269.8 653.11M2242.8 625.16L2269.8 679.68" stroke="#222" stroke-width="1.5" fill="none"/>
<rect x="2268.8" y="64.5" width="25" height="543.3" fill="#fbfbfb"/>
<path clip-path="url(#c49)" d="M2278.5 64.5V607.8M2287.61 64.5V607.8" stroke="#3c3c3c" stroke-width="1.25" fill="none"/>
<path clip-path="url(#c49)" d="M2268.8 73.2H2293.8M2268.8 91.99H2293.8M2268.8 110.78H2293.8M2268.8 129.57H2293.8M2268.8 148.36H2293.8M2268.8 167.15H2293.8M2268.8 185.94H2293.8M2268.8 204.73H2293.8M2268.8 223.52H2293.8M2268.8 242.31H2293.8M2268.8 261.1H2293.8M2268.8 279.89H2293.8M2268.8 298.68H2293.8M2268.8 317.47H2293.8M2268.8 336.26H2293.8M2268.8 355.05H2293.8M2268.8 373.84H2293.8M2268.8 392.63H2293.8M2268.8 411.42H2293.8M2268.8 430.21H2293.8M2268.8 449H2293.8M2268.8 467.79H2293.8M2268.8 486.58H2293.8M2268.8 505.37H2293.8M2268.8 524.16H2293.8M2268.8 542.95H2293.8M2268.8 561.74H2293.8M2268.8 580.53H2293.8M2268.8 599.32H2293.8" stroke="#222" stroke-width="1.4" fill="none"/>
<rect x="2293.8" y="427.3" width="25" height="180.5" fill="#fbfbfb"/>
<path clip-path="url(#c50)" d="M2293.8 598.7H2318.8M2293.8 591.25H2318.8M2293.8 583.8H2318.8M2293.8 576.35H2318.8M2293.8 568.9H2318.8M2293.8 561.45H2318.8M2293.8 554H2318.8M2293.8 546.55H2318.8M2293.8 539.1H2318.8M2293.8 531.65H2318.8M2293.8 524.2H2318.8M2293.8 516.75H2318.8M2293.8 509.3H2318.8M2293.8 501.85H2318.8M2293.8 494.4H2318.8M2293.8 486.95H2318.8M2293.8 479.5H2318.8M2293.8 472.05H2318.8M2293.8 464.6H2318.8M2293.8 457.15H2318.8M2293.8 449.7H2318.8M2293.8 442.25H2318.8M2293.8 434.8H2318.8" stroke="#222" stroke-width="1.6" fill="none"/>
<path d="M1549.8 607.8V390.5H1574.8V607.8M1574.8 607.8V432.4H1599.8V607.8M1599.8 607.8V379.1H1624.8V607.8M1624.8 607.8V156.3H1649.8V607.8M1649.8 607.8V527.3H1674.8V607.8" stroke="#222" stroke-width="3.8" fill="none" stroke-linejoin="miter"/>
<path d="M1710.8 607.8V396.4H1735.8V607.8M1735.8 607.8V471.7H1760.8V607.8M1760.8 607.8V382.4H1785.8V607.8M1785.8 607.8V123.8H1810.8V607.8M1810.8 607.8V489.4H1835.8V607.8" stroke="#222" stroke-width="3.8" fill="none" stroke-linejoin="miter"/>
<path d="M1871.8 607.8V482.2H1896.8V607.8M1896.8 607.8V473H1921.8V607.8M1921.8 607.8V416.1H1946.8V607.8M1946.8 607.8V218.2H1971.8V607.8M1971.8 607.8V500.8H1996.8V607.8" stroke="#222" stroke-width="3.8" fill="none" stroke-linejoin="miter"/>
<path d="M2032.8 607.8V385H2057.8V607.8M2057.8 607.8V386.3H2082.8V607.8M2082.8 607.8V338.8H2107.8V607.8M2107.8 607.8V204H2132.8V607.8M2132.8 607.8V381.7H2157.8V607.8" stroke="#222" stroke-width="3.8" fill="none" stroke-linejoin="miter"/>
<path d="M2193.8 607.8V330.8H2218.8V607.8M2218.8 607.8V354.3H2243.8V607.8M2243.8 607.8V298.7H2268.8V607.8M2268.8 607.8V64.5H2293.8V607.8M2293.8 607.8V427.3H2318.8V607.8" stroke="#222" stroke-width="3.8" fill="none" stroke-linejoin="miter"/>
<path d="M1531 24.1V607.8H2320.7" stroke="#222" stroke-width="3" fill="none" stroke-linejoin="miter" stroke-linecap="square"/>
<path d="M1531 524.74h18.5M1531 441.59h18.5M1531 358.43h18.5M1531 275.27h18.5M1531 192.11h18.5M1531 108.96h18.5M1531 25.8h18.5" stroke="#222" stroke-width="2.8" fill="none"/>
<text transform="translate(1500.5 624.4) scale(0.97 1)" font-size="50" text-anchor="end">0</text>
<text transform="translate(1500.5 541.24) scale(0.97 1)" font-size="50" text-anchor="end">10</text>
<text transform="translate(1500.5 458.09) scale(0.97 1)" font-size="50" text-anchor="end">20</text>
<text transform="translate(1500.5 374.93) scale(0.97 1)" font-size="50" text-anchor="end">30</text>
<text transform="translate(1500.5 291.77) scale(0.97 1)" font-size="50" text-anchor="end">40</text>
<text transform="translate(1500.5 208.61) scale(0.97 1)" font-size="50" text-anchor="end">50</text>
<text transform="translate(1500.5 125.46) scale(0.97 1)" font-size="50" text-anchor="end">60</text>
<text transform="translate(1500.5 42.3) scale(0.97 1)" font-size="50" text-anchor="end">70</text>
<text transform="translate(1612.3 677.6) scale(0.96 1)" font-size="52" text-anchor="middle">0</text>
<text transform="translate(1773.3 677.6) scale(0.96 1)" font-size="52" text-anchor="middle">7</text>
<text transform="translate(1934.3 677.6) scale(0.96 1)" font-size="52" text-anchor="middle">30</text>
<text transform="translate(2095.3 677.6) scale(0.96 1)" font-size="52" text-anchor="middle">90</text>
<text transform="translate(2256.3 677.6) scale(0.96 1)" font-size="52" text-anchor="middle">180</text>
<text x="1925.3" y="749.5" font-size="51" text-anchor="middle"><tspan font-style="italic">t</tspan>/d</text>
<text x="1559.5" y="42" font-size="48">B</text>
<g transform="translate(1394.4 486) rotate(-90)"><text transform="translate(-0.64 2.4) scale(1 1.1)" font-size="56" font-style="italic">w</text><text x="30.99" y="10.5" font-size="28">MBN</text><text x="96" y="0" font-size="51">/</text><text x="110.72" y="0" font-size="52">(</text><text x="127.23" y="0" font-size="51">mg</text><text x="239.32" y="0" font-size="51.5">kg</text><text x="306.19" y="-18.5" font-size="32">1</text><text x="324.33" y="0" font-size="52">)</text><path d="M294.3 -28.6H309.3" stroke="#222" stroke-width="1.8" fill="none"/><circle cx="216.3" cy="-19.8" r="4.4"/></g>
<path d="M1562.3 385.5V395.5" stroke="#5c5c5c" stroke-width="4.2" fill="none"/>
<path d="M1558.3 385.5h8M1558.3 395.5h8" stroke="#5c5c5c" stroke-width="2.2" fill="none"/>
<text x="1552.3" y="374.1" font-size="44">b</text>
<path d="M1587.3 425.4V439.4" stroke="#5c5c5c" stroke-width="4.2" fill="none"/>
<path d="M1583.3 425.4h8M1583.3 439.4h8" stroke="#5c5c5c" stroke-width="2.2" fill="none"/>
<text x="1575.72" y="415.3" font-size="44">c</text>
<path d="M1612.3 374.1V384.1" stroke="#5c5c5c" stroke-width="4.2" fill="none"/>
<path d="M1608.3 374.1h8M1608.3 384.1h8" stroke="#5c5c5c" stroke-width="2.2" fill="none"/>
<text x="1600.4" y="365.9" font-size="44">b</text>
<path d="M1637.3 154.3V158.3" stroke="#5c5c5c" stroke-width="4.2" fill="none"/>
<path d="M1633.3 154.3h8M1633.3 158.3h8" stroke="#5c5c5c" stroke-width="2.2" fill="none"/>
<text x="1626.65" y="143.8" font-size="44">a</text>
<path d="M1662.3 525.8V528.8" stroke="#5c5c5c" stroke-width="4.2" fill="none"/>
<path d="M1658.3 525.8h8M1658.3 528.8h8" stroke="#5c5c5c" stroke-width="2.2" fill="none"/>
<text x="1654.41" y="514.5" font-size="44">d</text>
<path d="M1723.3 390.4V402.4" stroke="#5c5c5c" stroke-width="4.2" fill="none"/>
<path d="M1719.3 390.4h8M1719.3 402.4h8" stroke="#5c5c5c" stroke-width="2.2" fill="none"/>
<text x="1715.5" y="382" font-size="44">b</text>
<path d="M1748.3 468.7V474.7" stroke="#5c5c5c" stroke-width="4.2" fill="none"/>
<path d="M1744.3 468.7h8M1744.3 474.7h8" stroke="#5c5c5c" stroke-width="2.2" fill="none"/>
<text x="1739.02" y="462.1" font-size="44">c</text>
<path d="M1773.3 381.4V383.4" stroke="#5c5c5c" stroke-width="4.2" fill="none"/>
<path d="M1769.3 381.4h8M1769.3 383.4h8" stroke="#5c5c5c" stroke-width="2.2" fill="none"/>
<text x="1763.6" y="373.8" font-size="44">b</text>
<path d="M1798.3 113.2V134.4" stroke="#5c5c5c" stroke-width="4.2" fill="none"/>
<path d="M1794.3 113.2h8M1794.3 134.4h8" stroke="#5c5c5c" stroke-width="2.2" fill="none"/>
<text x="1788.25" y="103.8" font-size="44">a</text>
<path d="M1823.3 486.4V492.4" stroke="#5c5c5c" stroke-width="4.2" fill="none"/>
<path d="M1819.3 486.4h8M1819.3 492.4h8" stroke="#5c5c5c" stroke-width="2.2" fill="none"/>
<text x="1814.32" y="476.9" font-size="44">c</text>
<path d="M1884.3 479.7V484.7" stroke="#5c5c5c" stroke-width="4.2" fill="none"/>
<path d="M1880.3 479.7h8M1880.3 484.7h8" stroke="#5c5c5c" stroke-width="2.2" fill="none"/>
<text x="1874.52" y="471" font-size="44">c</text>
<path d="M1909.3 470V476" stroke="#5c5c5c" stroke-width="4.2" fill="none"/>
<path d="M1905.3 470h8M1905.3 476h8" stroke="#5c5c5c" stroke-width="2.2" fill="none"/>
<text x="1899.02" y="460.5" font-size="44">c</text>
<path d="M1934.3 410.1V422.1" stroke="#5c5c5c" stroke-width="4.2" fill="none"/>
<path d="M1930.3 410.1h8M1930.3 422.1h8" stroke="#5c5c5c" stroke-width="2.2" fill="none"/>
<text x="1923.6" y="400" font-size="44">b</text>
<path d="M1959.3 216.7V219.7" stroke="#5c5c5c" stroke-width="4.2" fill="none"/>
<path d="M1955.3 216.7h8M1955.3 219.7h8" stroke="#5c5c5c" stroke-width="2.2" fill="none"/>
<text x="1948.25" y="203.8" font-size="44">a</text>
<path d="M1984.3 498.3V503.3" stroke="#5c5c5c" stroke-width="4.2" fill="none"/>
<path d="M1980.3 498.3h8M1980.3 503.3h8" stroke="#5c5c5c" stroke-width="2.2" fill="none"/>
<text x="1975.41" y="483.4" font-size="44">d</text>
<path d="M2045.3 381V389" stroke="#5c5c5c" stroke-width="4.2" fill="none"/>
<path d="M2041.3 381h8M2041.3 389h8" stroke="#5c5c5c" stroke-width="2.2" fill="none"/>
<text x="2035.12" y="372.8" font-size="44">c</text>
<path d="M2070.3 383.8V388.8" stroke="#5c5c5c" stroke-width="4.2" fill="none"/>
<path d="M2066.3 383.8h8M2066.3 388.8h8" stroke="#5c5c5c" stroke-width="2.2" fill="none"/>
<text x="2060.02" y="372.8" font-size="44">c</text>
<path d="M2095.3 334.8V342.8" stroke="#5c5c5c" stroke-width="4.2" fill="none"/>
<path d="M2091.3 334.8h8M2091.3 342.8h8" stroke="#5c5c5c" stroke-width="2.2" fill="none"/>
<text x="2084.6" y="324.7" font-size="44">b</text>
<path d="M2120.3 193.5V214.5" stroke="#5c5c5c" stroke-width="4.2" fill="none"/>
<path d="M2116.3 193.5h8M2116.3 214.5h8" stroke="#5c5c5c" stroke-width="2.2" fill="none"/>
<text x="2110.75" y="187.8" font-size="44">a</text>
<path d="M2145.3 376.7V386.7" stroke="#5c5c5c" stroke-width="4.2" fill="none"/>
<path d="M2141.3 376.7h8M2141.3 386.7h8" stroke="#5c5c5c" stroke-width="2.2" fill="none"/>
<text x="2137.62" y="367.2" font-size="44">c</text>
<path d="M2206.3 328.8V332.8" stroke="#5c5c5c" stroke-width="4.2" fill="none"/>
<path d="M2202.3 328.8h8M2202.3 332.8h8" stroke="#5c5c5c" stroke-width="2.2" fill="none"/>
<text x="2196.12" y="316.3" font-size="44">c</text>
<path d="M2231.3 350.3V358.3" stroke="#5c5c5c" stroke-width="4.2" fill="none"/>
<path d="M2227.3 350.3h8M2227.3 358.3h8" stroke="#5c5c5c" stroke-width="2.2" fill="none"/>
<text x="2220.81" y="331.7" font-size="44">d</text>
<path d="M2256.3 293.7V303.7" stroke="#5c5c5c" stroke-width="4.2" fill="none"/>
<path d="M2252.3 293.7h8M2252.3 303.7h8" stroke="#5c5c5c" stroke-width="2.2" fill="none"/>
<text x="2248.5" y="285.9" font-size="44">b</text>
<path d="M2281.3 55.2V73.8" stroke="#5c5c5c" stroke-width="4.2" fill="none"/>
<path d="M2277.3 55.2h8M2277.3 73.8h8" stroke="#5c5c5c" stroke-width="2.2" fill="none"/>
<text x="2271.55" y="46.8" font-size="44">a</text>
<path d="M2306.3 422.3V432.3" stroke="#5c5c5c" stroke-width="4.2" fill="none"/>
<path d="M2302.3 422.3h8M2302.3 432.3h8" stroke="#5c5c5c" stroke-width="2.2" fill="none"/>
<text x="2299.22" y="412.8" font-size="44">c</text>
<rect x="593.5" y="794.8" width="31" height="30" fill="#f8f8f8" stroke="#222" stroke-width="3.4"/>
<text x="640" y="823.3" font-size="51">TR</text>
<rect x="902" y="794.8" width="31" height="30" fill="#f8f8f8" stroke="#222" stroke-width="3.4"/>
<path d="M902 824.8L933 794.8" stroke="#222" stroke-width="1.7"/>
<text x="944" y="823.3" font-size="51">BR</text>
<rect x="1212" y="794.8" width="31" height="30" fill="#f8f8f8" stroke="#222" stroke-width="3.4"/>
<path d="M1212 804.8L1231 824.8M1236 794.8L1243 802.8" stroke="#222" stroke-width="1.7"/>
<text x="1256.5" y="823.3" font-size="51">LR</text>
<rect x="1518.5" y="794.8" width="31" height="30" fill="#f8f8f8" stroke="#222" stroke-width="3.4"/>
<path d="M1534 794.8V824.8M1518.5 813.8H1549.5" stroke="#222" stroke-width="1.8"/>
<text x="1561.5" y="823.3" font-size="51">SR</text>
<rect x="1821.2" y="794.8" width="31" height="30" fill="#f8f8f8" stroke="#222" stroke-width="3.4"/>
<path d="M1821.2 804.8h31M1821.2 812.8h31M1821.2 820.8h31" stroke="#222" stroke-width="1.8"/>
<text x="1865.5" y="823.3" font-size="51">ck</text>
<text x="778" y="902.5" font-size="50" textLength="750" lengthAdjust="spacing" style='font-family:"Liberation Serif","Noto Serif CJK SC",serif'>不同小写字母表示处理间差异显著</text>
<text x="1540.5" y="903" font-size="50">(<tspan font-style="italic" dx="2">P</tspan></text>
<path d="M1631.5 871.5L1595 885.2L1631.5 899" stroke="#222" stroke-width="2.2" fill="none" stroke-linejoin="miter"/>
<text x="1639.3" y="903" font-size="49.3">0.05<tspan dx="1">)</tspan></text>
</g></svg></body></html>
